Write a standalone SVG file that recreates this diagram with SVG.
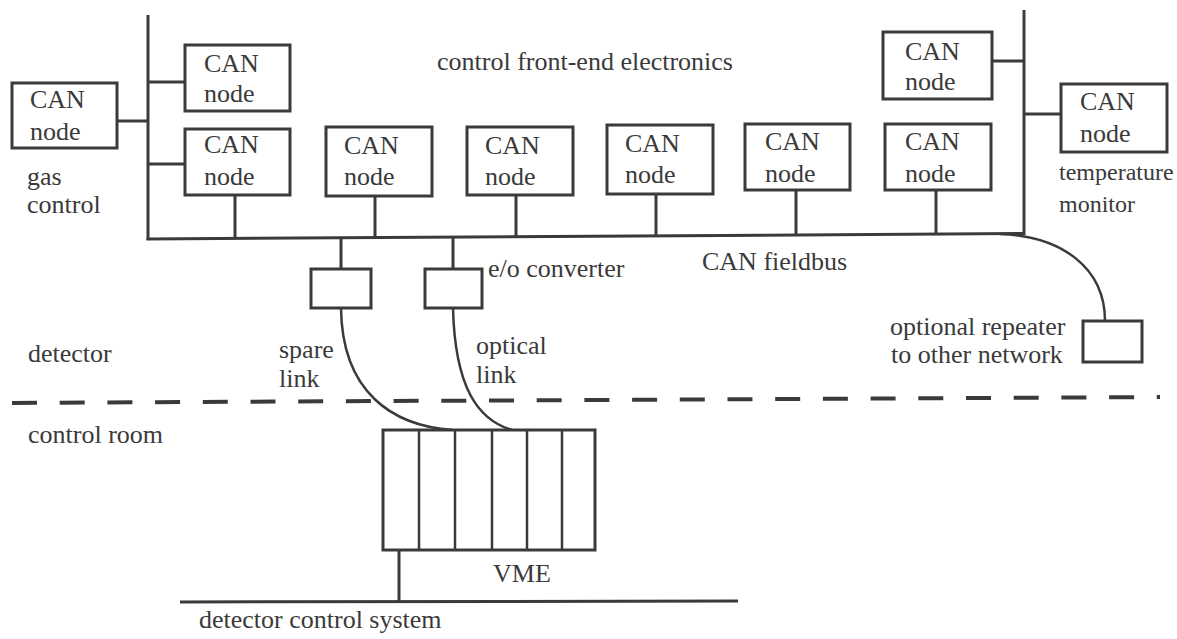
<svg xmlns="http://www.w3.org/2000/svg" width="1177" height="639" viewBox="0 0 1177 639" font-family="'Liberation Serif', 'DejaVu Serif', serif">
<style>
text{font-family:'Liberation Serif','DejaVu Serif',serif;font-size:26px;fill:#3a3a3a}
.sm{font-size:24px}
.box{fill:#fff;stroke:#3a3a3a;stroke-width:3}
.ln{fill:none;stroke:#3a3a3a;stroke-width:3}
.thin{fill:none;stroke:#3a3a3a;stroke-width:2.5}
.dash{fill:none;stroke:#3a3a3a;stroke-width:4;stroke-dasharray:25 22.7}
</style>
<rect width="1177" height="639" fill="#fff"/>
<g id="connectors">
<line class="ln" x1="148" y1="15" x2="148" y2="240"/>
<line class="ln" x1="146.5" y1="239" x2="1025" y2="233.5"/>
<line class="ln" x1="1024" y1="10" x2="1024" y2="235"/>
<line class="ln" x1="117" y1="121" x2="148" y2="121"/>
<line class="ln" x1="148" y1="82" x2="185" y2="82"/>
<line class="ln" x1="148" y1="164" x2="185" y2="164"/>
<line class="ln" x1="235" y1="195" x2="235" y2="239"/>
<line class="ln" x1="375" y1="196" x2="375" y2="238"/>
<line class="ln" x1="516" y1="195" x2="516" y2="237"/>
<line class="ln" x1="656" y1="194" x2="656" y2="236"/>
<line class="ln" x1="796" y1="190" x2="796" y2="235"/>
<line class="ln" x1="936" y1="190" x2="936" y2="234"/>
<line class="ln" x1="992" y1="61" x2="1024" y2="61"/>
<line class="ln" x1="1024" y1="114" x2="1061" y2="114"/>
<line class="ln" x1="341" y1="238" x2="341" y2="269"/>
<line class="ln" x1="453" y1="238" x2="453" y2="269"/>
<path class="thin" d="M341,308 C342,392 392,426 453,430"/>
<path class="thin" d="M453,308 C455,388 478,420 512,430"/>
<path class="thin" d="M1000,234 C1062,236 1105,268 1105,321"/>
<line class="ln" x1="399" y1="550" x2="399" y2="602"/>
<line class="ln" x1="180" y1="602" x2="738" y2="601"/>
<line class="dash" x1="12" y1="403" x2="1160" y2="397"/>
</g>
<g id="gas-node"><rect class="box" x="12" y="83" width="105" height="65"/><text x="30" y="108">CAN</text><text x="30" y="140">node</text></g>
<g id="node-top-left"><rect class="box" x="185" y="45" width="105" height="66"/><text x="204" y="72">CAN</text><text x="204" y="102">node</text></g>
<g id="node-a"><rect class="box" x="185" y="129" width="105" height="66"/><text x="204" y="153">CAN</text><text x="204" y="185">node</text></g>
<g id="node-1"><rect class="box" x="326" y="127" width="106" height="69"/><text x="344" y="154">CAN</text><text x="344" y="185">node</text></g>
<g id="node-2"><rect class="box" x="467" y="127" width="106" height="68"/><text x="485" y="154">CAN</text><text x="485" y="185">node</text></g>
<g id="node-3"><rect class="box" x="607" y="125" width="106" height="69"/><text x="625" y="152">CAN</text><text x="625" y="183">node</text></g>
<g id="node-4"><rect class="box" x="745" y="124" width="105" height="66"/><text x="765" y="150">CAN</text><text x="765" y="182">node</text></g>
<g id="node-5"><rect class="box" x="885" y="124" width="106" height="66"/><text x="905" y="150">CAN</text><text x="905" y="182">node</text></g>
<g id="node-top-right"><rect class="box" x="883" y="32" width="109" height="67"/><text x="905" y="60">CAN</text><text x="905" y="90">node</text></g>
<g id="temp-node"><rect class="box" x="1061" y="84" width="106" height="68"/><text x="1080" y="110">CAN</text><text x="1080" y="142">node</text></g>
<g id="spare-converter"><rect class="box" x="311" y="269" width="60" height="39"/></g>
<g id="eo-converter"><rect class="box" x="425" y="269" width="57" height="39"/></g>
<g id="repeater"><rect class="box" x="1083" y="321" width="59" height="41"/></g>
<g id="vme">
<rect class="box" x="383" y="430" width="212" height="120"/>
<line class="thin" x1="419" y1="430" x2="419" y2="550"/>
<line class="thin" x1="455" y1="430" x2="455" y2="550"/>
<line class="thin" x1="492" y1="430" x2="492" y2="550"/>
<line class="thin" x1="527" y1="430" x2="527" y2="550"/>
<line class="thin" x1="562" y1="430" x2="562" y2="550"/>
</g>
<g id="labels">
<text x="437" y="70">control front-end electronics</text>
<text x="27" y="185">gas</text>
<text x="27" y="213">control</text>
<text class="sm" x="1059" y="180">temperature</text>
<text class="sm" x="1059" y="212">monitor</text>
<text x="488" y="277">e/o converter</text>
<text x="702" y="270">CAN fieldbus</text>
<text x="28" y="362">detector</text>
<text x="279" y="358">spare</text>
<text x="279" y="387">link</text>
<text x="476" y="354">optical</text>
<text x="476" y="383">link</text>
<text x="890" y="335">optional repeater</text>
<text x="891" y="363">to other network</text>
<text x="28" y="443">control room</text>
<text x="493" y="582">VME</text>
<text x="199" y="628">detector control system</text>
</g>
</svg>
